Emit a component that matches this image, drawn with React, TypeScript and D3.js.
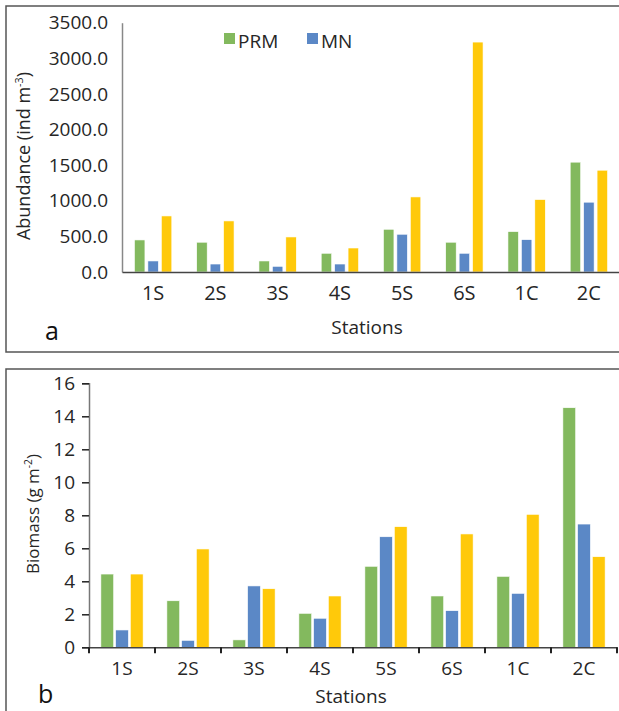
import React, { useRef, useEffect } from 'react';
import * as d3 from 'd3';

// Stations along both x axes
const stations = ['1S', '2S', '3S', '4S', '5S', '6S', '1C', '2C'];
const seriesNames = ['PRM', 'MN', 'Other'];
const seriesColors = ['#83b95e', '#5b88c6', '#ffc90a'];

// Panel a: abundance (ind m-3)
const prmAbundance = [450, 418, 155, 263, 600, 418, 567, 1542];
const mnAbundance = [155, 112, 80, 112, 530, 263, 454, 980];
const otherAbundance = [787, 717, 492, 337, 1054, 3228, 1017, 1429];
const abundanceTicks = [0, 500, 1000, 1500, 2000, 2500, 3000, 3500];

// Panel b: biomass (g m-2)
const prmBiomass = [4.44, 2.82, 0.45, 2.06, 4.91, 3.11, 4.3, 14.52];
const mnBiomass = [1.05, 0.42, 3.72, 1.76, 6.7, 2.22, 3.27, 7.47];
const otherBiomass = [4.44, 5.96, 3.55, 3.11, 7.31, 6.87, 8.06, 5.49];
const biomassTicks = [0, 2, 4, 6, 8, 10, 12, 14, 16];

const FONT = '"Open Sans", "DejaVu Sans", sans-serif';
const TEXT = '#262626';

const App = () => {
    const svgRef = useRef<SVGSVGElement>(null);

    useEffect(() => {
        const width = 619;
        const height = 711;
        const svg = d3.select(svgRef.current)
            .attr('width', width)
            .attr('height', height);

        svg.selectAll('*').remove();

        // Panel borders
        svg.append('rect')
            .attr('x', 6).attr('y', 6)
            .attr('width', 630).attr('height', 346)
            .attr('fill', 'none').attr('stroke', '#555').attr('stroke-width', 1.5);
        svg.append('rect')
            .attr('x', 6).attr('y', 369)
            .attr('width', 630).attr('height', 360)
            .attr('fill', 'none').attr('stroke', '#555').attr('stroke-width', 1.5);

        const drawPanel = (opts: any) => {
            const { left, right, top, bottom, domainMax, ticks, series, fmt,
                outer, inner, tickSize, axisColor, yFont, xFont, xLabelY } = opts;
            const g = svg.append('g');

            const x0 = d3.scaleBand<string>()
                .domain(stations)
                .range([left, right])
                .paddingInner(outer)
                .paddingOuter(outer / 2);
            const x1 = d3.scaleBand<number>()
                .domain([0, 1, 2])
                .range([0, x0.bandwidth()])
                .paddingInner(inner);
            const y = d3.scaleLinear().domain([0, domainMax]).range([bottom, top]);

            // Bars
            series.forEach((vals: number[], si: number) => {
                g.append('g')
                    .selectAll('rect')
                    .data(vals)
                    .enter()
                    .append('rect')
                    .attr('x', (d, i) => x0(stations[i])! + x1(si)!)
                    .attr('y', d => y(d))
                    .attr('width', x1.bandwidth())
                    .attr('height', d => y(0) - y(d))
                    .attr('fill', seriesColors[si])
                    .attr('stroke', '#fff')
                    .attr('stroke-width', 0.6);
            });

            // Y axis
            const yAxis = g.append('g')
                .attr('transform', `translate(${left}, 0)`)
                .call(d3.axisLeft(y).tickValues(ticks).tickFormat(fmt).tickSize(tickSize).tickPadding(14 - tickSize));
            yAxis.select('.domain').attr('stroke', axisColor).attr('stroke-width', 1.5);
            yAxis.selectAll('.tick line').attr('stroke', '#222').attr('stroke-width', 1.5);
            yAxis.selectAll('.tick text')
                .attr('fill', TEXT).attr('font-family', FONT).attr('font-size', yFont);

            // X axis
            const xAxis = g.append('g')
                .attr('transform', `translate(0, ${bottom})`)
                .call(d3.axisBottom(x0).tickSize(0).tickPadding(0));
            xAxis.select('.domain').attr('stroke', '#444').attr('stroke-width', 1.5);
            xAxis.selectAll('.tick text')
                .attr('fill', TEXT).attr('font-family', FONT).attr('font-size', xFont)
                .attr('dy', null)
                .attr('y', xLabelY);

            // Tick marks between categories (panel b)
            if (tickSize > 0) {
                const bounds = d3.range(stations.length + 1).map(i => left + i * x0.step());
                g.append('g')
                    .selectAll('line')
                    .data(bounds)
                    .enter()
                    .append('line')
                    .attr('x1', d => d).attr('x2', d => d)
                    .attr('y1', bottom).attr('y2', bottom + 6)
                    .attr('stroke', '#222').attr('stroke-width', 2);
            }
            return { left, right };
        };

        // Panel a
        drawPanel({
            left: 122, right: 620, top: 22.7, bottom: 272,
            domainMax: 3500, ticks: abundanceTicks, fmt: d3.format('.1f'),
            series: [prmAbundance, mnAbundance, otherAbundance],
            outer: 0.4, inner: 0.22, tickSize: 0, axisColor: '#888',
            yFont: 19, xFont: 20, xLabelY: 28
        });

        // Panel b
        drawPanel({
            left: 89, right: 617, top: 383.3, bottom: 647.3,
            domainMax: 16, ticks: biomassTicks, fmt: d3.format('d'),
            series: [prmBiomass, mnBiomass, otherBiomass],
            outer: 0.36, inner: 0.13, tickSize: 7, axisColor: '#777',
            yFont: 19, xFont: 19, xLabelY: 28
        });

        // Legend (panel a)
        const legend = svg.append('g');
        [0, 1].forEach((si, i) => {
            const lx = 224 + i * 83;
            legend.append('rect')
                .attr('x', lx).attr('y', 33)
                .attr('width', 11).attr('height', 11)
                .attr('fill', seriesColors[si]);
            legend.append('text')
                .attr('x', lx + 14).attr('y', 48)
                .attr('fill', TEXT).attr('font-family', FONT).attr('font-size', 19)
                .text(seriesNames[si]);
        });

        // Axis titles
        const titles = [
            { x: 367, y: 334, text: 'Stations' },
            { x: 351, y: 703, text: 'Stations' }
        ];
        titles.forEach(t => {
            svg.append('text')
                .attr('x', t.x).attr('y', t.y)
                .attr('text-anchor', 'middle')
                .attr('fill', TEXT).attr('font-family', FONT).attr('font-size', 19)
                .text(t.text);
        });

        const yTitle = (cx: number, cy: number, main: string, sup: string, size: number) => {
            const t = svg.append('text')
                .attr('transform', `translate(${cx}, ${cy}) rotate(-90)`)
                .attr('text-anchor', 'middle')
                .attr('fill', TEXT).attr('font-family', FONT).attr('font-size', size);
            t.append('tspan').text(main);
            t.append('tspan').attr('dy', -7).attr('font-size', size * 0.6).text(sup);
            t.append('tspan').attr('dy', 7).text(')');
        };
        yTitle(30, 156, 'Abundance (ind m', '-3', 18);
        yTitle(39, 514, 'Biomass (g m', '-2', 17);

        // Panel letters
        svg.append('text')
            .attr('x', 45).attr('y', 340)
            .attr('fill', '#111').attr('font-family', FONT).attr('font-size', 25)
            .text('a');
        svg.append('text')
            .attr('x', 38).attr('y', 703)
            .attr('fill', '#111').attr('font-family', FONT).attr('font-size', 25)
            .text('b');
    }, []);

    return (
        <svg ref={svgRef} style={{ position: 'absolute', left: 0, top: 0 }}></svg>
    );
};

export default App;
